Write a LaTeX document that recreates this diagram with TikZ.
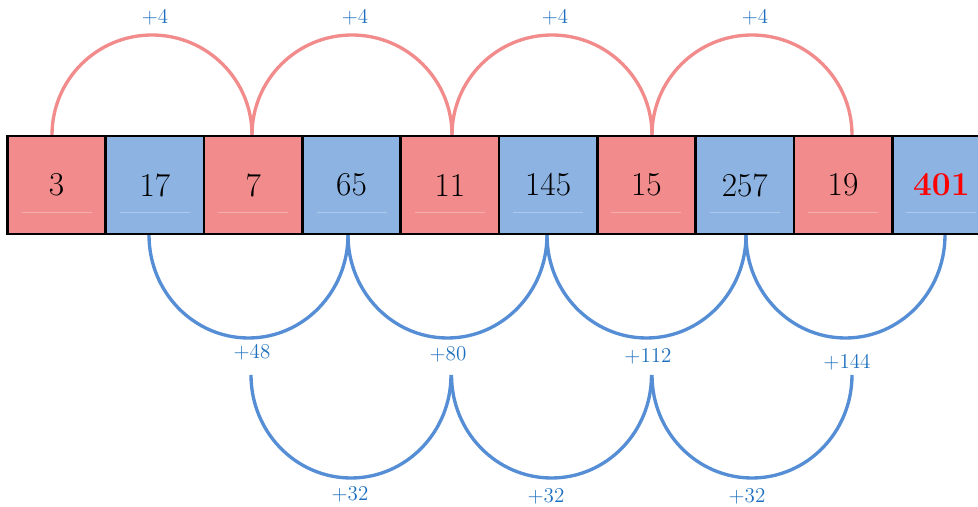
\documentclass[tikz,border=0pt]{standalone}
\usepackage{tikz}
\usetikzlibrary{positioning, calc}
\usepackage{xcolor}

\definecolor{cellred}{RGB}{242,139,139}
\definecolor{cellblue}{RGB}{141,179,226}
\definecolor{arcred}{RGB}{242,140,140}
\definecolor{arcblue}{RGB}{85,142,213}
\definecolor{difftext}{RGB}{30,112,190}

\begin{document}
\begin{tikzpicture}[x=0.02cm, y=0.02cm,
    cell/.style={draw=black, line width=1.5pt, minimum size=1.966cm, inner sep=0pt,
      font=\fontsize{19}{21}\selectfont},
    redarc/.style={arcred, line width=1.9pt},
    bluearc/.style={arcblue, line width=1.9pt},
    diff/.style={text=difftext, inner sep=0pt, font=\fontsize{12}{14}\selectfont}]
      \useasboundingbox (0,0) rectangle (978,507);
      \clip (0,0) rectangle (978,507);

      % first differences of the odd terms
      \foreach \k in {0,...,3} {
        \coordinate (top\k) at ({52+200*\k}, 372);
        \draw[redarc] (top\k) arc[start angle=180, end angle=0, radius=100];
        \node[diff] (four\k) at ({155+200*\k}, 489) {$+4$};
      }

      % first differences of the even terms
      \foreach \k in {0,...,3} {
        \coordinate (low\k) at ({149+199*\k}, 272);
        \draw[bluearc] (low\k) arc[start angle=180, end angle=360, x radius=99.5, y radius=103];
      }
      \node[diff] (d48)  at (252, 154) {$+48$};
      \node[diff] (d80)  at (448, 152) {$+80$};
      \node[diff] (d112) at (648, 150) {$+112$};
      \node[diff] (d144) at (847, 144) {$+144$};

      % second differences
      \foreach \k in {0,...,2} {
        \coordinate (sec\k) at ({251+200.5*\k}, 132);
        \draw[bluearc] (sec\k) arc[start angle=180, end angle=360, x radius=100, y radius=103];
      }
      \node[diff] (d32a) at (350, 12) {$+32$};
      \node[diff] (d32b) at (546, 10) {$+32$};
      \node[diff] (d32c) at (747, 10) {$+32$};

      % the sequence
      \foreach \v/\c [count=\i] in {3/cellred, 17/cellblue, 7/cellred, 65/cellblue, 11/cellred,
          145/cellblue, 15/cellred, 257/cellblue, 19/cellred, {\color{red}\bfseries 401}/cellblue} {
        \node[cell, fill=\c] (b\i) at ({98.3*\i-41.65}, 322) {\v};
        \draw[white, opacity=0.3, line width=0.5pt] ({98.3*\i-41.65-35}, 295) -- ({98.3*\i-41.65+35}, 295);
      }

    \end{tikzpicture}
\end{document}
